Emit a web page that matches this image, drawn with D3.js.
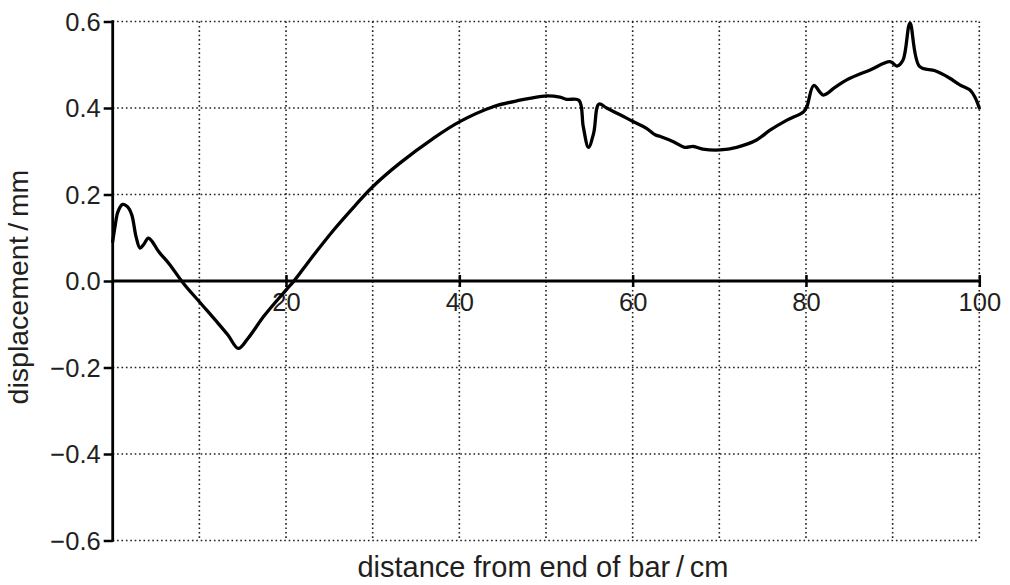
<!DOCTYPE html>
<html><head><meta charset="utf-8">
<script src="https://d3js.org/d3.v7.min.js"></script>
<style>body{margin:0;background:#fff}svg{display:block}text{font-family:"Liberation Sans",Arial,Helvetica,sans-serif;fill:#231f20}</style>
</head><body><svg id="c" width="1010" height="585"></svg>
<script>
const distance = [0,0.27,0.6,1.15,1.7,2.2,2.7,3.15,3.6,4.1,4.6,5.3,6.5,8.15,10,12,13.3,14.5,15.6,17.5,20,21,23,25.5,28,30,33.1,37,40,43.9,47,48.1,50.1,51.6,52.4,53.8,54.3,54.9,55.5,56.1,57,58.5,60.1,61.6,62.6,63.2,64.7,66,67,68.1,70.1,72,74.3,75.8,77.8,79.7,80.1,80.9,82,83.3,84.7,87.4,89.7,90.5,91.2,92,93.1,94.9,96.5,97.8,98.9,99.5,100];
const displacement = [0.091,0.126,0.16,0.177,0.172,0.153,0.102,0.076,0.085,0.099,0.09,0.068,0.04,-0.005,-0.048,-0.094,-0.125,-0.156,-0.133,-0.08,-0.021,0.002,0.055,0.118,0.175,0.218,0.272,0.33,0.368,0.403,0.418,0.422,0.428,0.425,0.42,0.418,0.357,0.309,0.342,0.409,0.4,0.385,0.368,0.353,0.338,0.334,0.322,0.309,0.311,0.305,0.303,0.309,0.326,0.348,0.372,0.391,0.403,0.452,0.43,0.447,0.465,0.488,0.507,0.497,0.511,0.596,0.496,0.486,0.47,0.453,0.442,0.425,0.40];
const xTicks = [20,40,60,80,100];
const yTicks = [-0.6,-0.4,-0.2,0.0,0.2,0.4,0.6];
const xGrid = [10,20,30,40,50,60,70,80,90,100];
const xTitle = "distance from end of bar\u2009/\u2009cm";
const yTitle = "displacement\u2009/\u2009mm";

const svg = d3.select("#c");
const x = d3.scaleLinear().domain([0,100]).range([112.7,979.3]);
const y = d3.scaleLinear().domain([-0.6,0.6]).range([540.5,21.5]);

const g = svg.append("g");
// grid
g.selectAll("line.vg").data(xGrid).join("line")
  .attr("x1",d=>x(d)).attr("x2",d=>x(d)).attr("y1",y(0.6)).attr("y2",y(-0.6))
  .attr("stroke","#231f20").attr("stroke-width",1.6).attr("stroke-dasharray","1.6,2.8");
g.selectAll("line.hg").data(yTicks.filter(d=>d!==0)).join("line")
  .attr("x1",x(0)).attr("x2",x(100)).attr("y1",d=>y(d)).attr("y2",d=>y(d))
  .attr("stroke","#231f20").attr("stroke-width",1.6).attr("stroke-dasharray","1.6,2.8");

// y axis
const yAxis = d3.axisLeft(y).tickValues(yTicks).tickSize(9).tickPadding(3)
  .tickFormat(d=>d3.format(".1f")(d).replace("-","\u2212"));
const ya = svg.append("g").attr("transform",`translate(${x(0)},0)`).call(yAxis);
ya.select(".domain").remove();
ya.selectAll(".tick line").attr("stroke","#000").attr("stroke-width",2.5);
ya.selectAll("text").style("font-size","25.5px").attr("fill","#231f20").attr("dy","0.34em");
svg.append("line").attr("x1",x(0)).attr("x2",x(0)).attr("y1",y(0.6)-1.2).attr("y2",y(-0.6)+1.2)
  .attr("stroke","#000").attr("stroke-width",2.8);

// x axis at zero
const xAxis = d3.axisBottom(x).tickValues(xTicks).tickSize(6).tickPadding(6).tickFormat(d3.format("d"));
const xa = svg.append("g").attr("transform",`translate(0,${y(0)})`).call(xAxis);
xa.select(".domain").remove();
xa.selectAll(".tick line").attr("stroke","#000").attr("stroke-width",2.5).attr("y1",-6).attr("y2",6);
xa.selectAll("text").style("font-size","25.5px").attr("fill","#231f20");
svg.append("line").attr("x1",x(0)).attr("x2",x(100)+1).attr("y1",y(0)).attr("y2",y(0))
  .attr("stroke","#000").attr("stroke-width",2.8);

// curve
const pts = distance.map((d,i)=>[d,displacement[i]]);
svg.append("path").datum(pts)
  .attr("d",d3.line().x(d=>x(d[0])).y(d=>y(d[1])).curve(d3.curveCatmullRom.alpha(0.5)))
  .attr("fill","none").attr("stroke","#000").attr("stroke-width",3.3).attr("stroke-linejoin","round").attr("stroke-linecap","round");

// titles
svg.append("text").attr("x",543).attr("y",577).attr("text-anchor","middle").style("font-size","29px").text(xTitle);
svg.append("text").attr("transform",`translate(28,287) rotate(-90)`).attr("text-anchor","middle").style("font-size","28.5px").text(yTitle);
</script></body></html>
